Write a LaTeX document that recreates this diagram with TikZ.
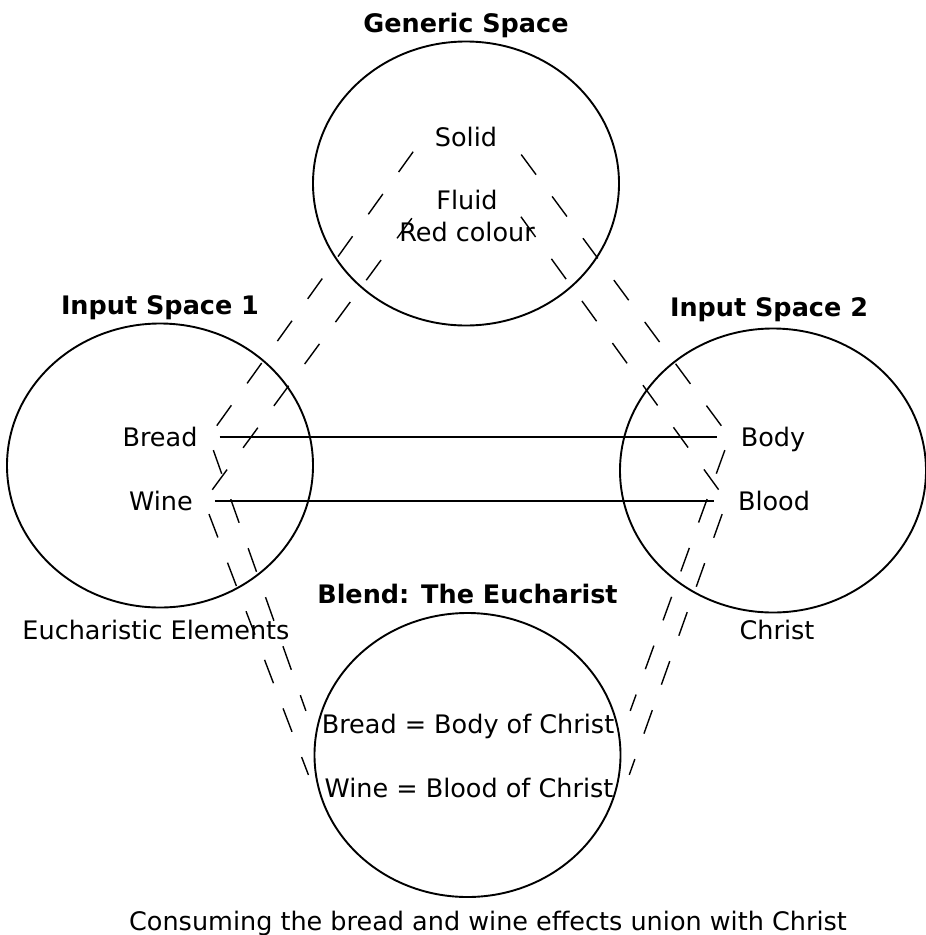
\documentclass[tikz,border=0pt]{standalone}
\usepackage{fontspec}
\setmainfont{DejaVu Sans}
\usetikzlibrary{shapes.geometric,positioning}

\begin{document}
\begin{tikzpicture}[
  x=1pt, y=-1pt, font=\fontsize{25.5}{30}\selectfont, node distance=8pt,
  space/.style={draw, ellipse, line width=1.9pt,
    minimum width=306pt, minimum height=284pt},
  title/.style={font=\fontsize{25.5}{30}\selectfont\bfseries,
    inner sep=0pt, text height=18.6pt, text depth=0pt},
  item/.style={inner xsep=11pt, inner ysep=0pt, text height=18.6pt, text depth=0pt},
  mapping/.style={line width=1.4pt, dash pattern=on 25pt off 27pt,
    shorten <=14pt, shorten >=14pt},
  link/.style={line width=1.9pt, shorten <=11pt, shorten >=13pt}
]
\useasboundingbox (0,0) rectangle (926,935);

% the four spaces
\node[space] (generic) at (466,183.5) {};
\node[space] (input1) at (160,465.5) {};
\node[space] (input2) at (773,470.5) {};
\node[space] (blend) at (467.5,755) {};

\node[title, above=of generic] (genericlabel) {Generic Space};
\node[title, above=of input1] (input1label) {Input Space 1};
\node[title, above=11pt of input2, xshift=-4pt] (input2label) {Input Space 2};
\node[title, above=of blend] (blendlabel) {Blend: The Eucharist};

% elements
\node[item] (solid) at (466,137) {Solid};
\node[item] (fluid) at (467,200) {Fluid};
\node[item] (red) at (467,232) {Red colour};
\node[item] (bread) at (160,437) {Bread};
\node[item] (wine) at (161,501) {Wine};
\node[item] (body) at (773,437) {Body};
\node[item] (blood) at (774,501) {Blood};
\node[item] (breadbody) at (468,724) {Bread = Body of Christ};
\node[item] (wineblood) at (469,788) {Wine = Blood of Christ};

\node[item] (elements) at (156,630) {Eucharistic Elements};
\node[item] (christ) at (777,630) {Christ};
\node[item] (caption) at (488,921) {Consuming the bread and wine effects union with Christ};

% cross-space mappings
\draw[link] (bread.east) -- (body.west);
\draw[link] (wine.east) -- (blood.west);

\draw[mapping] (bread.east) -- (solid.west);
\draw[mapping] (wine.east) -- (fluid.west);
\draw[mapping] (body.west) -- (solid.east);
\draw[mapping] (blood.west) -- (fluid.east);
\draw[mapping] (bread.east) -- (breadbody.west);
\draw[mapping] (wine.east) -- (wineblood.west);
\draw[mapping] (body.west) -- (breadbody.east);
\draw[mapping] (blood.west) -- (wineblood.east);
\end{tikzpicture}
\end{document}
